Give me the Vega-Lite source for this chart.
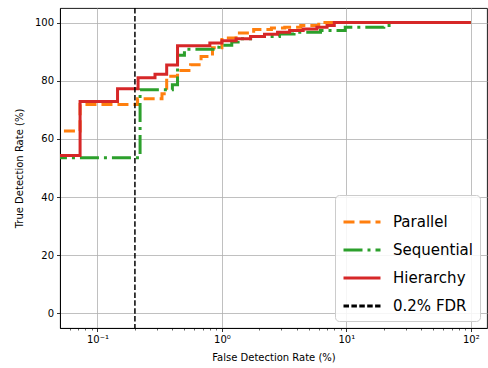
{
  "$schema": "https://vega.github.io/schema/vega-lite/v6.json",
  "width": 427,
  "height": 320,
  "autosize": {"type": "none"},
  "padding": {"left": 60, "top": 8, "right": 1, "bottom": 40},
  "background": "white",
  "config": {
    "font": "DejaVu Sans",
    "view": {"stroke": "#000000", "strokeWidth": 0.9},
    "axis": {
      "labelFont": "DejaVu Sans", "titleFont": "DejaVu Sans",
      "labelFontSize": 10, "titleFontSize": 10, "titleFontWeight": "normal",
      "labelColor": "#000", "titleColor": "#000",
      "domainColor": "#000", "domainWidth": 0.9,
      "tickColor": "#000", "tickSize": 3.5, "tickWidth": 0.8,
      "gridColor": "#b0b0b0", "gridWidth": 0.8
    },
    "legend": {
      "labelFont": "DejaVu Sans", "labelFontSize": 15, "labelColor": "#000",
      "orient": "bottom-right", "offset": 7, "padding": 7,
      "fillColor": "rgba(255,255,255,0.85)", "strokeColor": "#cccccc", "cornerRadius": 4,
      "symbolType": "stroke", "symbolSize": 1369, "symbolStrokeWidth": 3, "labelOffset": 11, "rowPadding": -15
    }
  },
  "datasets": {
    "curves": [
      {"s": "Parallel", "x": 0.04, "y": 62.7},
      {"s": "Parallel", "x": 0.0725, "y": 71.8},
      {"s": "Parallel", "x": 0.21, "y": 73.8},
      {"s": "Parallel", "x": 0.33, "y": 75.5},
      {"s": "Parallel", "x": 0.36, "y": 81.5},
      {"s": "Parallel", "x": 0.44, "y": 83.5},
      {"s": "Parallel", "x": 0.56, "y": 85.5},
      {"s": "Parallel", "x": 0.68, "y": 88.3},
      {"s": "Parallel", "x": 0.84, "y": 91.3},
      {"s": "Parallel", "x": 1.0, "y": 94.7},
      {"s": "Parallel", "x": 1.3, "y": 96.4},
      {"s": "Parallel", "x": 1.8, "y": 97.6},
      {"s": "Parallel", "x": 2.5, "y": 98.1},
      {"s": "Parallel", "x": 3.2, "y": 98.4},
      {"s": "Parallel", "x": 4.3, "y": 99.0},
      {"s": "Parallel", "x": 6.0, "y": 100},
      {"s": "Parallel", "x": 100, "y": 100},
      {"s": "Sequential", "x": 0.04, "y": 53.5},
      {"s": "Sequential", "x": 0.22, "y": 76.9},
      {"s": "Sequential", "x": 0.4, "y": 78.6},
      {"s": "Sequential", "x": 0.44, "y": 88.8},
      {"s": "Sequential", "x": 0.5, "y": 90.8},
      {"s": "Sequential", "x": 0.85, "y": 91.5},
      {"s": "Sequential", "x": 0.95, "y": 92.2},
      {"s": "Sequential", "x": 1.2, "y": 93.3},
      {"s": "Sequential", "x": 1.35, "y": 94.4},
      {"s": "Sequential", "x": 1.7, "y": 95.2},
      {"s": "Sequential", "x": 2.9, "y": 96.1},
      {"s": "Sequential", "x": 3.8, "y": 96.7},
      {"s": "Sequential", "x": 6.2, "y": 97.3},
      {"s": "Sequential", "x": 9.8, "y": 98.4},
      {"s": "Sequential", "x": 20, "y": 99.0},
      {"s": "Sequential", "x": 24, "y": 100},
      {"s": "Sequential", "x": 100, "y": 100},
      {"s": "Hierarchy", "x": 0.04, "y": 54.3},
      {"s": "Hierarchy", "x": 0.0725, "y": 72.9},
      {"s": "Hierarchy", "x": 0.145, "y": 77.2},
      {"s": "Hierarchy", "x": 0.212, "y": 81.0},
      {"s": "Hierarchy", "x": 0.29, "y": 82.2},
      {"s": "Hierarchy", "x": 0.36, "y": 85.4},
      {"s": "Hierarchy", "x": 0.44, "y": 92.0},
      {"s": "Hierarchy", "x": 0.8, "y": 93.0},
      {"s": "Hierarchy", "x": 1.0, "y": 93.7},
      {"s": "Hierarchy", "x": 1.3, "y": 94.4},
      {"s": "Hierarchy", "x": 1.7, "y": 95.2},
      {"s": "Hierarchy", "x": 2.2, "y": 96.0},
      {"s": "Hierarchy", "x": 2.8, "y": 96.7},
      {"s": "Hierarchy", "x": 3.5, "y": 97.3},
      {"s": "Hierarchy", "x": 4.5, "y": 97.8},
      {"s": "Hierarchy", "x": 5.8, "y": 98.4},
      {"s": "Hierarchy", "x": 7.0, "y": 99.0},
      {"s": "Hierarchy", "x": 8.0, "y": 100},
      {"s": "Hierarchy", "x": 100, "y": 100}
    ],
    "fdr": [{"s": "0.2% FDR", "x": 0.2}],
    "minor": [{"x": 1}]
  },
  "resolve": {"axis": {"x": "independent"}},
  "layer": [
    {
      "data": {"name": "curves"},
      "mark": {"type": "line", "interpolate": "step-after", "clip": true, "strokeWidth": 3},
      "encoding": {
        "x": {
          "field": "x", "type": "quantitative",
          "scale": {"type": "log", "domain": [0.05, 135], "nice": false},
          "axis": {
            "orient": "bottom",
            "values": [0.1, 1, 10, 100],
            "labelExpr": "datum.value < 0.5 ? '10⁻¹' : datum.value < 5 ? '10⁰' : datum.value < 50 ? '10¹' : '10²'",
            "title": "False Detection Rate (%)", "titlePadding": 8, "labelPadding": 3
          }
        },
        "y": {
          "field": "y", "type": "quantitative",
          "scale": {"domain": [-5, 105], "nice": false, "zero": false},
          "axis": {"values": [0, 20, 40, 60, 80, 100], "title": "True Detection Rate (%)", "titlePadding": 10, "labelPadding": 3}
        },
        "color": {
          "field": "s", "type": "nominal",
          "scale": {"domain": ["Parallel", "Sequential", "Hierarchy", "0.2% FDR"], "range": ["#ff7f0e", "#2ca02c", "#d62728", "#000000"]},
          "legend": {"title": null}
        },
        "strokeDash": {
          "field": "s", "type": "nominal",
          "scale": {"domain": ["Parallel", "Sequential", "Hierarchy", "0.2% FDR"], "range": [[11, 5], [19, 5, 3, 5], [1, 0], [5.5, 2.4]]},
          "legend": {"title": null}
        }
      }
    },
    {
      "data": {"name": "fdr"},
      "mark": {"type": "rule", "strokeWidth": 1.5},
      "encoding": {
        "x": {"field": "x", "type": "quantitative", "axis": null},
        "color": {"field": "s", "type": "nominal", "legend": {"title": null}},
        "strokeDash": {"field": "s", "type": "nominal", "legend": {"title": null}}
      }
    },
    {
      "data": {"name": "minor"},
      "mark": {"type": "point", "opacity": 0},
      "encoding": {
        "x": {
          "field": "x", "type": "quantitative",
          "axis": {
            "orient": "bottom", "title": null, "labels": false, "grid": false, "domain": false,
            "tickSize": 2, "tickWidth": 0.6,
            "values": [0.06, 0.07, 0.08, 0.09, 0.2, 0.3, 0.4, 0.5, 0.6, 0.7, 0.8, 0.9, 2, 3, 4, 5, 6, 7, 8, 9, 20, 30, 40, 50, 60, 70, 80, 90]
          }
        }
      }
    }
  ]
}
